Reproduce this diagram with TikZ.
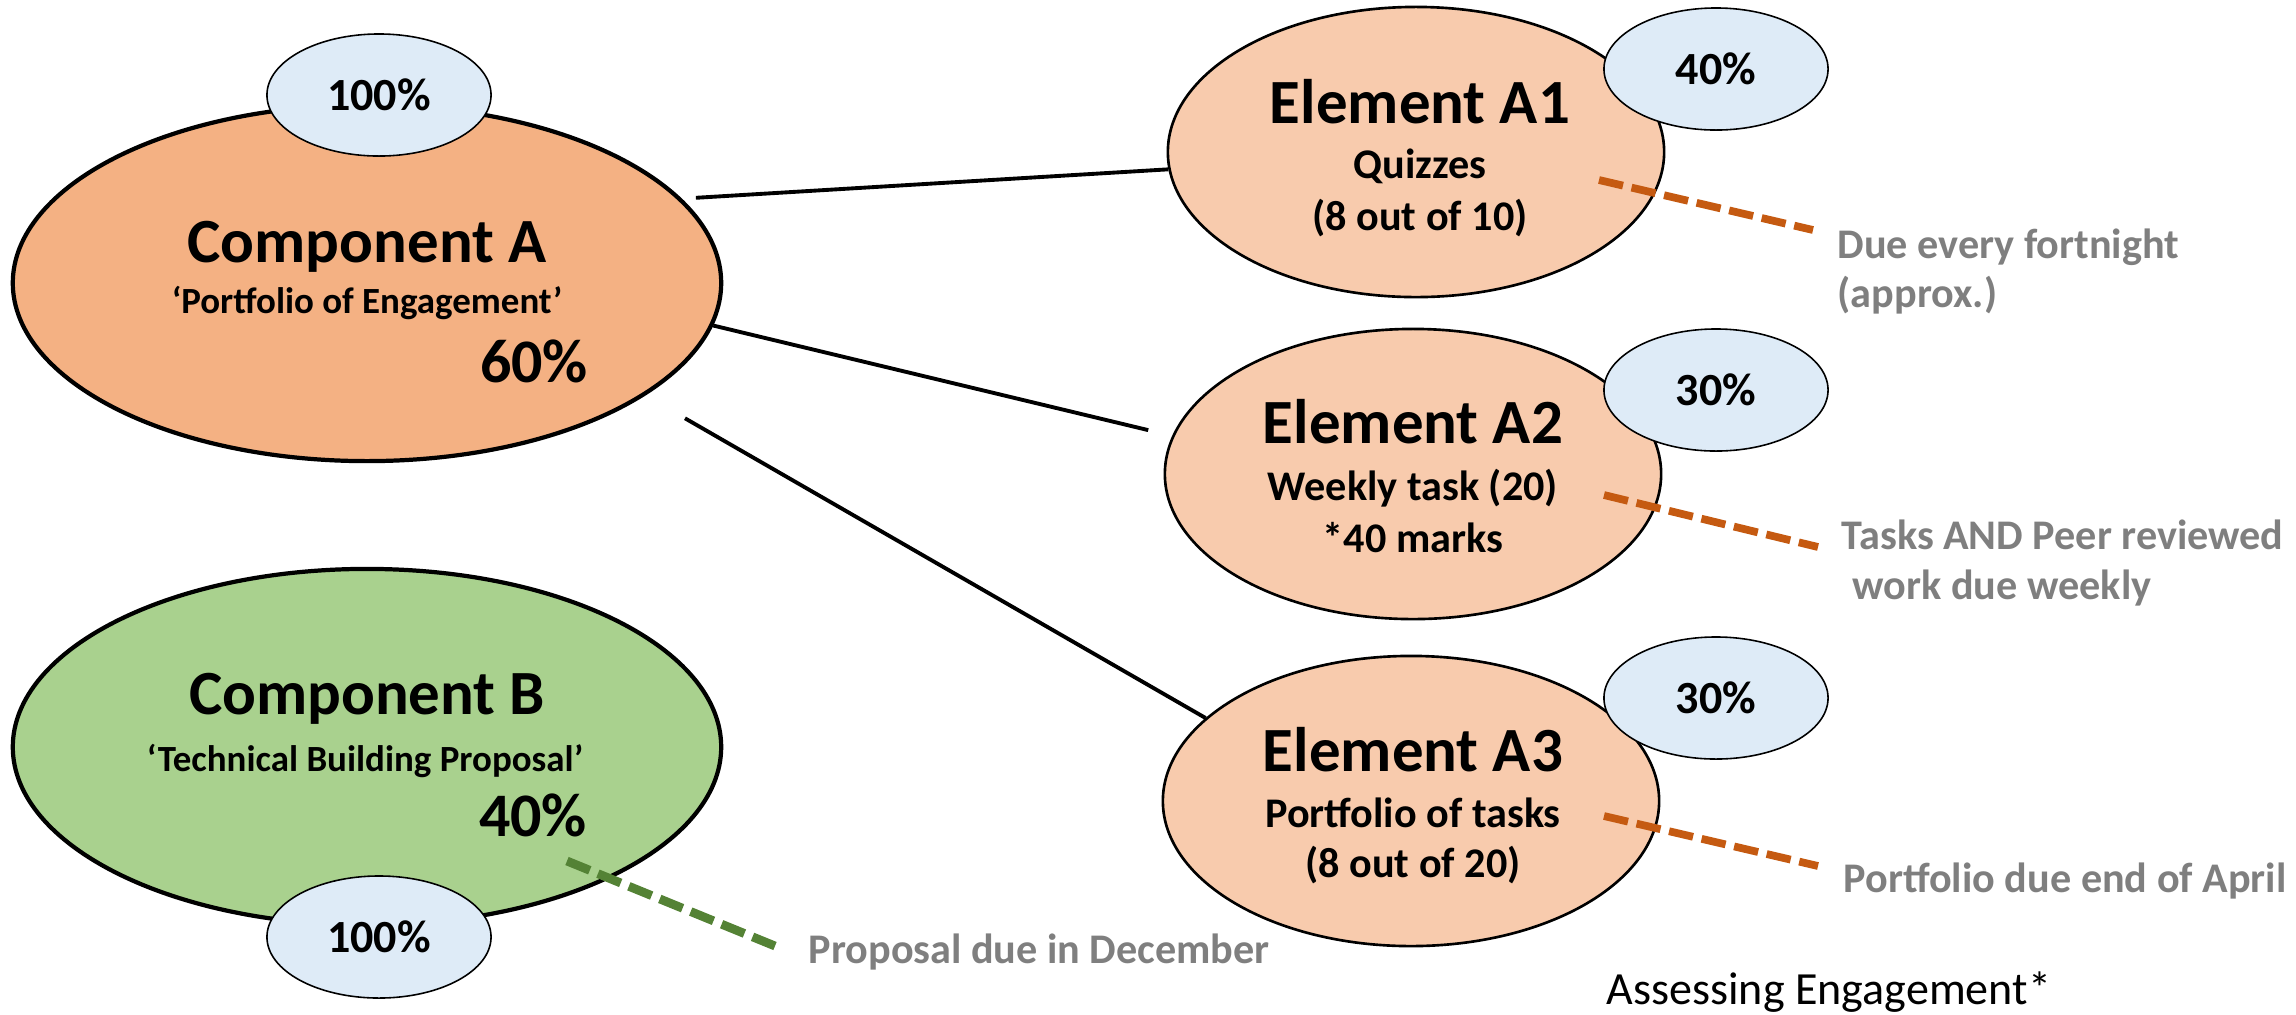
\documentclass[tikz,border=0pt]{standalone}
\usepackage{fontspec}
\setmainfont{Carlito}
\usetikzlibrary{shapes.geometric}

\definecolor{compfill}{HTML}{F4B183}
\definecolor{elemfill}{HTML}{F8CBAD}
\definecolor{propfill}{HTML}{A9D18E}
\definecolor{pctfill}{HTML}{DEEBF7}
\definecolor{leadorange}{HTML}{C55A11}
\definecolor{leadgreen}{HTML}{548235}
\definecolor{duegray}{HTML}{7F7F7F}

\newcommand{\sz}[1]{\fontsize{#1pt}{#1pt}\selectfont}

\tikzset{
  comp/.style={ellipse, draw, line width=1.2pt, minimum width=7.08cm, minimum height=3.56cm},
  elem/.style={ellipse, draw, line width=0.75pt, fill=elemfill, minimum width=4.96cm, minimum height=2.9cm},
  pct/.style={ellipse, draw, line width=0.45pt, fill=pctfill, minimum width=2.24cm, minimum height=1.22cm, font=\bfseries\sz{13.1}},
  ttl/.style={anchor=base, inner sep=0pt, font=\bfseries\sz{17.9}},
  csub/.style={anchor=base, inner sep=0pt, font=\bfseries\sz{10.5}},
  esub/.style={anchor=base, inner sep=0pt, font=\bfseries\sz{12}},
  share/.style={anchor=base, inner sep=0pt, font=\bfseries\sz{17.6}},
  due/.style={anchor=base west, inner sep=0pt, text=duegray, font=\bfseries\sz{12}},
  link/.style={line width=1.1pt},
  lead/.style={line width=2.2pt, dash pattern=on 7pt off 2.5pt}
}

\begin{document}
\begin{tikzpicture}[x=0.01cm, y=-0.01cm]

\useasboundingbox (0,0) rectangle (2296,1014);

% components
\node[comp, fill=compfill] (compA) at (367,283) {};
\node[comp, fill=propfill] (compB) at (367,747) {};

\node[ttl] (compAttl) at (367,262) {Component A};
\node[csub] (compAsub) at (367,313) {‘Portfolio of Engagement’};
\node[share] (compAshare) at (534,382) {60\%};

\node[ttl] (compBttl) at (367,714) {Component B};
\node[csub] (compBsub) at (365,771) {‘Technical Building Proposal’};
\node[share] (compBshare) at (533,836) {40\%};

\node[pct] (pctA) at (379,95) {100\%};
\node[pct] (pctB) at (379,937) {100\%};

% elements of component A
\node[elem] (elA1) at (1416,152) {};
\node[elem] (elA2) at (1413,474) {};
\node[elem] (elA3) at (1411,801) {};

\node[ttl] (elA1ttl) at (1420,123) {Element A1};
\node[esub] (elA1a) at (1420,178) {Quizzes};
\node[esub] (elA1b) at (1420,230) {(8 out of 10)};

\node[ttl] (elA2ttl) at (1413,443) {Element A2};
\node[esub] (elA2a) at (1413,500) {Weekly task (20)};
\node[esub] (elA2b) at (1413,552) {*40 marks};

\node[ttl] (elA3ttl) at (1413,771) {Element A3};
\node[esub] (elA3a) at (1413,827) {Portfolio of tasks};
\node[esub] (elA3b) at (1413,877) {(8 out of 20)};

\node[pct] (pctA1) at (1716,69) {40\%};
\node[pct] (pctA2) at (1716,390) {30\%};
\node[pct] (pctA3) at (1716,698) {30\%};

% links from A to its elements
\draw[link, shorten <=4pt] (compA.15) -- (elA1.184);
\draw[link, shorten >=7pt] (compA.-7) -- (elA2.171);
\draw[link, shorten <=13pt] (compA.-22.5) -- (elA3.158.7);

% deadlines
\coordinate (ldA1s) at (1599,180); \coordinate (ldA1e) at (1813,230);
\coordinate (ldA2s) at (1604,495); \coordinate (ldA2e) at (1818,547);
\coordinate (ldA3s) at (1604,816); \coordinate (ldA3e) at (1818,866);
\coordinate (ldBs) at (567,861);   \coordinate (ldBe) at (775,946);

\draw[lead, leadorange] (ldA1s) -- (ldA1e);
\draw[lead, leadorange] (ldA2s) -- (ldA2e);
\draw[lead, leadorange] (ldA3s) -- (ldA3e);
\draw[lead, leadgreen, line width=2.5pt] (ldBs) -- (ldBe);

\node[due] (dueA1a) at (1837,258) {Due every fortnight};
\node[due] (dueA1b) at (1837,307) {(approx.)};
\node[due] (dueA2a) at (1841,549) {Tasks AND Peer reviewed};
\node[due] (dueA2b) at (1852,599) {work due weekly};
\node[due] (dueA3) at (1843,892) {Portfolio due end of April};
\node[due] (dueB) at (808,963) {Proposal due in December};

\node[anchor=base west, inner sep=0pt, font=\sz{13.1}] (caption) at (1606,1004) {Assessing Engagement*};

\end{tikzpicture}
\end{document}
